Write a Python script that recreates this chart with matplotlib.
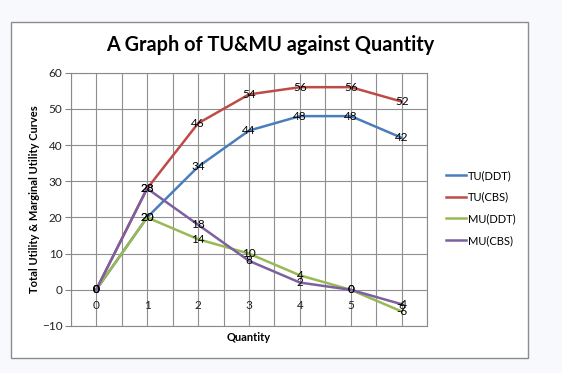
import matplotlib
matplotlib.use("Agg")
import matplotlib.pyplot as plt
import matplotlib.transforms as mtransforms
from matplotlib.patches import Rectangle
import numpy as np

# data
quantity = [0, 1, 2, 3, 4, 5, 6]
tu_ddt = [0, 20, 34, 44, 48, 48, 42]
tu_cbs = [0, 28, 46, 54, 56, 56, 52]
mu_ddt = [0, 20, 14, 10, 4, 0, -6]
mu_cbs = [0, 28, 18, 8, 2, 0, -4]

series_names = ["TU(DDT)", "TU(CBS)", "MU(DDT)", "MU(CBS)"]
series_values = [tu_ddt, tu_cbs, mu_ddt, mu_cbs]
series_colors = ["#4A7EBB", "#BE4B48", "#98B954", "#7D60A0"]

y_ticks = [-10, 0, 10, 20, 30, 40, 50, 60]

plt.rcParams["font.family"] = ["Lato", "DejaVu Sans"]

fig = plt.figure(figsize=(5.62, 3.73), dpi=100)
fig.patch.set_facecolor("#f8f9fd")

# white chart frame like an Excel chart object
frame = Rectangle((11 / 562, 1 - 358 / 373), 517 / 562, 336 / 373,
                  transform=fig.transFigure, facecolor="white",
                  edgecolor="#8c8c8c", linewidth=1.0, zorder=-5)
fig.patches.append(frame)

ax = fig.add_axes([70.7 / 562, 1 - 326 / 373, 356.6 / 562, 253.3 / 373])
ax.set_facecolor("white")
ax.set_zorder(1)

for name, vals, col in zip(series_names, series_values, series_colors):
    ax.plot(quantity, vals, color=col, linewidth=1.8, label=name, zorder=3)

# data labels centred on each point
for vals in series_values:
    for q, v in zip(quantity, vals):
        ax.text(q, v, str(v), ha="center", va="center", fontsize=8.5,
                color="black", zorder=5)

ax.set_xlim(-0.5, 6.5)
ax.set_ylim(-10, 60)
ax.set_yticks(y_ticks)
ax.set_xticks(np.arange(-0.5, 6.51, 0.5))
ax.set_xticklabels([])
ax.tick_params(axis="x", length=0)
ax.tick_params(axis="y", length=4, color="#868686", labelsize=8.5,
               labelcolor="#222222", pad=2)
ax.grid(True, color="#8f8f8f", linewidth=0.8)
ax.set_axisbelow(True)
for sp in ax.spines.values():
    sp.set_color("#8a8a8a")
    sp.set_linewidth(0.8)

# category labels sit under the zero line
lab_tr = mtransforms.offset_copy(ax.transData, fig=fig, x=0, y=-11, units="points")
for q in quantity:
    ax.text(q, 0, str(q), transform=lab_tr, ha="center", va="center",
            fontsize=8.5, color="#222222")

ax.set_xlabel("Quantity", fontsize=8, fontweight="bold", labelpad=0.5)
ax.set_ylabel("Total Utility & Marginal Utility Curves", fontsize=8,
              fontweight="bold", labelpad=1.5)

fig.text(270 / 562, 1 - 45 / 373, "A Graph of TU&MU against Quantity",
         ha="center", va="center", fontsize=14.3, fontweight="bold")

ax.legend(loc="center left", bbox_to_anchor=(436 / 562, 1 - 208 / 373),
          bbox_transform=fig.transFigure, frameon=False, fontsize=8,
          handlelength=1.8, handletextpad=0.2, labelspacing=0.95)

fig.savefig("out.png", dpi=100, facecolor=fig.get_facecolor())
